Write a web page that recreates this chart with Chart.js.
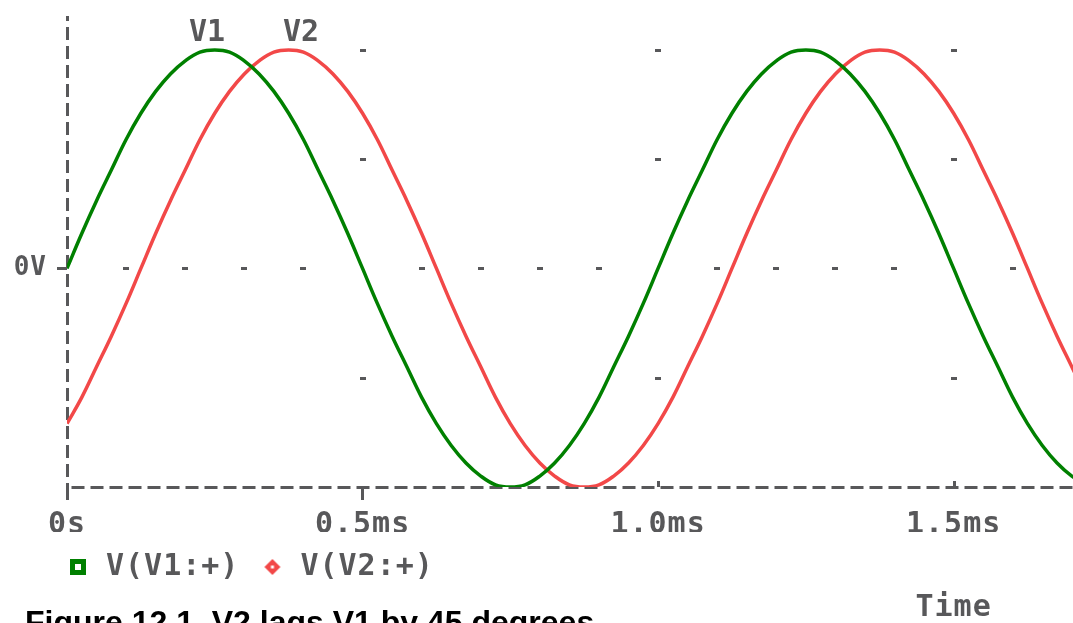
<!DOCTYPE html>
<html>
<head>
<meta charset="utf-8">
<script src="https://cdn.jsdelivr.net/npm/chart.js@4.4.1/dist/chart.umd.min.js"></script>
<style>
  html, body { margin: 0; padding: 0; background: #ffffff; }
  #wrap { width: 1073px; height: 623px; }
</style>
</head>
<body>
<div id="wrap"><canvas id="c" width="1073" height="623"></canvas></div>
<script>
// ---- data (time in ms, voltage normalised to peak) ----
const times = [0,0.025,0.05,0.075,0.1,0.125,0.15,0.175,0.2,0.225,0.25,0.275,0.3,0.325,0.35,0.375,0.4,0.425,0.45,0.475,0.5,0.525,0.55,0.575,0.6,0.625,0.65,0.675,0.7,0.725,0.75,0.775,0.8,0.825,0.85,0.875,0.9,0.925,0.95,0.975,1.0,1.025,1.05,1.075,1.1,1.125,1.15,1.175,1.2,1.225,1.25,1.275,1.3,1.325,1.35,1.375,1.4,1.425,1.45,1.475,1.5,1.525,1.55,1.575,1.6,1.625,1.65,1.675,1.7,1.725];
const v1 = [0.00,0.16,0.31,0.45,0.59,0.71,0.81,0.89,0.95,0.99,
            1.00,0.99,0.95,0.89,0.81,0.71,0.59,0.45,0.31,0.16,
            0.00,-0.16,-0.31,-0.45,-0.59,-0.71,-0.81,-0.89,-0.95,-0.99,
            -1.00,-0.99,-0.95,-0.89,-0.81,-0.71,-0.59,-0.45,-0.31,-0.16,
            0.00,0.16,0.31,0.45,0.59,0.71,0.81,0.89,0.95,0.99,
            1.00,0.99,0.95,0.89,0.81,0.71,0.59,0.45,0.31,0.16,
            0.00,-0.16,-0.31,-0.45,-0.59,-0.71,-0.81,-0.89,-0.95,-0.99];
const v2 = [-0.71,-0.59,-0.45,-0.31,-0.16,
            0.00,0.16,0.31,0.45,0.59,0.71,0.81,0.89,0.95,0.99,
            1.00,0.99,0.95,0.89,0.81,0.71,0.59,0.45,0.31,0.16,
            0.00,-0.16,-0.31,-0.45,-0.59,-0.71,-0.81,-0.89,-0.95,-0.99,
            -1.00,-0.99,-0.95,-0.89,-0.81,-0.71,-0.59,-0.45,-0.31,-0.16,
            0.00,0.16,0.31,0.45,0.59,0.71,0.81,0.89,0.95,0.99,
            1.00,0.99,0.95,0.89,0.81,0.71,0.59,0.45,0.31,0.16,
            0.00,-0.16,-0.31,-0.45,-0.59];
const seriesNames = ['V(V1:+)', 'V(V2:+)'];
const xTickValues = [0, 0.5, 1.0, 1.5];
const xTickLabels = ['0s', '0.5ms', '1.0ms', '1.5ms'];
const yTickValues = [0];
const yTickLabels = ['0V'];
const xRange = [0, 1.702];
const yRange = [-1, 1.155];
const gridMajorX = [0.5, 1.0, 1.5];
const gridMajorYDots = [1, 0.5, -0.5];
const zeroRowDots = [0.1,0.2,0.3,0.4,0.6,0.7,0.8,0.9,1.1,1.2,1.3,1.4,1.6];
const upTickValues = [1.0, 1.5];
const peakLabels = ['V1', 'V2'];
const peakLabelTimes = [0.237, 0.396];
const peakLabelLevel = 1.09;
const xAxisTitle = 'Time';
const xAxisTitleAt = 1.5;
const figureCaption = 'Figure 12.1  V2 lags V1 by 45 degrees';

// ---- styles ----
const GRAY = '#58585a';
const GREEN = '#008000';
const RED = '#f24848';
const MONO = '"DejaVu Sans Mono", monospace';

function makeIcon(kind, color) {
  const c = document.createElement('canvas');
  c.width = 18; c.height = 18;
  const g = c.getContext('2d');
  if (kind === 'square') {
    g.fillStyle = color; g.fillRect(1, 1, 16, 16);
    g.fillStyle = '#ffffff'; g.fillRect(6, 6, 6, 6);
  } else {
    g.fillStyle = color;
    g.beginPath(); g.moveTo(9, 1); g.lineTo(17, 9); g.lineTo(9, 17); g.lineTo(1, 9); g.closePath(); g.fill();
    g.fillStyle = '#ffffff'; g.fillRect(7.5, 7.5, 3, 3);
  }
  return c;
}
const legendIcons = [makeIcon('square', GREEN), makeIcon('diamond', RED)];

const pspicePlugin = {
  id: 'pspice',
  beforeLayout(chart) { chart.ctx.letterSpacing = '1px'; },
  afterLayout(chart) {
    if (chart.legend) { chart.legend.left = 45; }
  },
  beforeDraw(chart) { chart.ctx.letterSpacing = '1px'; },
  beforeDatasetsDraw(chart) {
    const {ctx, chartArea: a, scales: {x, y}} = chart;
    ctx.save();
    // dotted grid
    ctx.fillStyle = GRAY;
    gridMajorX.forEach(gx => {
      gridMajorYDots.forEach(gy => {
        const px = Math.round(x.getPixelForValue(gx));
        const py = Math.round(y.getPixelForValue(gy));
        ctx.fillRect(px - 3, py - 1, 6, 3);
      });
    });
    zeroRowDots.forEach(gx => {
      const px = Math.round(x.getPixelForValue(gx));
      const py = Math.round(y.getPixelForValue(0));
      ctx.fillRect(px - 3, py - 1, 6, 3);
    });
    // small upward ticks
    upTickValues.forEach(v => {
      const px = Math.round(x.getPixelForValue(v));
      ctx.fillRect(px - 1, a.bottom - 6, 3, 6);
    });
    // dashed axes
    ctx.strokeStyle = GRAY;
    ctx.lineWidth = 3;
    ctx.setLineDash([13, 6]);
    ctx.lineDashOffset = 8;
    const x0 = Math.round(x.getPixelForValue(xRange[0])) + 0.5;
    ctx.beginPath();
    ctx.moveTo(x0, a.top);
    ctx.lineTo(x0, a.bottom);
    ctx.stroke();
    ctx.lineDashOffset = 0;
    const yb = Math.round(y.getPixelForValue(yRange[0])) + 0.5;
    ctx.beginPath();
    ctx.moveTo(x0 + 4, yb);
    ctx.lineTo(a.right, yb);
    ctx.stroke();
    ctx.restore();
  },
  afterDraw(chart) {
    const {ctx, scales: {x, y}} = chart;
    ctx.save();
    ctx.letterSpacing = '0px';
    ctx.fillStyle = GRAY;
    ctx.font = 'bold 30px ' + MONO;
    ctx.textAlign = 'center';
    ctx.textBaseline = 'alphabetic';
    peakLabels.forEach((t, i) => {
      ctx.fillText(t, x.getPixelForValue(peakLabelTimes[i]), y.getPixelForValue(peakLabelLevel) + 11);
    });
    ctx.letterSpacing = '1px';
    ctx.fillText(xAxisTitle, x.getPixelForValue(xAxisTitleAt), 616);
    ctx.letterSpacing = '0px';
    ctx.fillStyle = '#000000';
    ctx.textAlign = 'left';
    ctx.font = 'bold 32px "Liberation Sans", Arial, sans-serif';
    ctx.fillText(figureCaption, 25, 633);
    ctx.restore();
  }
};

const chart = new Chart(document.getElementById('c'), {
  type: 'line',
  data: {
    datasets: [
      {
        label: seriesNames[0],
        data: times.map((t, i) => ({x: t, y: v1[i]})),
        borderColor: GREEN,
        backgroundColor: '#ffffff',
        borderWidth: 3.5,
        pointRadius: 0,
        tension: 0.4,
        fill: false
      },
      {
        label: seriesNames[1],
        data: times.map((t, i) => ({x: t, y: v2[i]})),
        borderColor: RED,
        backgroundColor: '#ffffff',
        borderWidth: 3.5,
        pointRadius: 0,
        tension: 0.4,
        fill: false
      }
    ]
  },
  options: {
    responsive: false,
    animation: false,
    devicePixelRatio: 1,
    layout: { padding: { top: 16, right: 0, bottom: 31, left: 0 } },
    scales: {
      x: {
        type: 'linear',
        min: xRange[0],
        max: xRange[1],
        afterBuildTicks: s => { s.ticks = xTickValues.map(v => ({value: v})); },
        afterFit: s => { s.height = 45; s.paddingLeft = 0; s.paddingRight = 0; },
        ticks: {
          color: GRAY,
          padding: 7,
          maxRotation: 0,
          autoSkip: false,
          font: { family: MONO, size: 30, weight: 'bold' },
          callback: v => { const i = xTickValues.indexOf(v); return i >= 0 ? xTickLabels[i] : ''; }
        },
        grid: {
          drawOnChartArea: false,
          drawTicks: true,
          tickLength: 13,
          tickWidth: 3,
          tickColor: c => (c.tick && c.tick.value <= 0.5) ? GRAY : 'rgba(0,0,0,0)'
        },
        border: { display: false }
      },
      y: {
        type: 'linear',
        min: yRange[0],
        max: yRange[1],
        afterBuildTicks: s => { s.ticks = yTickValues.map(v => ({value: v})); },
        afterFit: s => { s.width = 67; s.paddingTop = 0; s.paddingBottom = 0; },
        ticks: {
          color: GRAY,
          padding: 10,
          labelOffset: 0,
          font: { family: MONO, size: 26, weight: 'bold' },
          callback: v => { const i = yTickValues.indexOf(v); return i >= 0 ? yTickLabels[i] : ''; }
        },
        grid: {
          drawOnChartArea: false,
          drawTicks: true,
          tickLength: 10,
          tickWidth: 3,
          tickColor: GRAY
        },
        border: { display: false }
      }
    },
    plugins: {
      tooltip: { enabled: false },
      title: { display: false },
      legend: {
        display: true,
        position: 'bottom',
        align: 'start',
        labels: {
          usePointStyle: true,
          boxWidth: 26,
          boxHeight: 16,
          padding: 20,
          color: GRAY,
          font: { family: MONO, size: 30, weight: 'bold' },
          generateLabels: c => {
            const items = Chart.defaults.plugins.legend.labels.generateLabels(c);
            items.forEach((it, i) => {
              it.pointStyle = legendIcons[i];
              it.fontColor = GRAY;
            });
            return items;
          }
        }
      }
    }
  },
  plugins: [pspicePlugin]
});
</script>
</body>
</html>
